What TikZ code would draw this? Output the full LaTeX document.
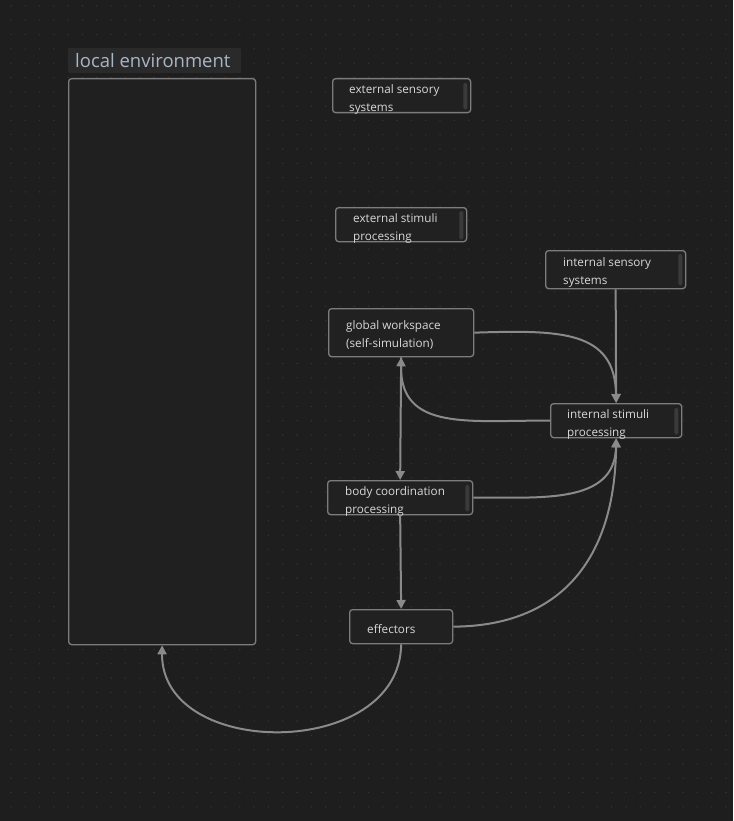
\documentclass[tikz,border=0pt]{standalone}
\usepackage{fontspec}
\setmainfont{Open Sans}
\usetikzlibrary{calc,arrows.meta}

\definecolor{canvasbg}{HTML}{1E1E1E}
\definecolor{griddot}{HTML}{333333}
\definecolor{cardfill}{HTML}{212121}
\definecolor{cardline}{HTML}{7C7C7C}
\definecolor{cardtext}{HTML}{D8D8D8}
\definecolor{edgecol}{HTML}{8A8A8A}
\definecolor{scrollcol}{HTML}{3A3A3A}
\definecolor{grouptext}{HTML}{A9B6C4}
\definecolor{grouptag}{HTML}{2A2A2A}

\begin{document}
\begin{tikzpicture}[x=1pt,y=-1pt,>={Triangle[length=9pt,width=9pt]}]
        \tikzset{
            card/.style={draw=cardline, fill=cardfill, rounded corners=3pt, line width=1.3pt, inner sep=0pt, anchor=north west},
            cardlabel/.style={anchor=west, align=left, text=cardtext, font=\fontsize{11.7}{18}\selectfont, inner sep=0pt},
            link/.style={draw=edgecol, line width=2pt},
            scroll/.style={fill=scrollcol, rounded corners=1.5pt}
        }

        % background and dot grid
        \fill[canvasbg] (0,0) rectangle (733,821);
        \foreach \i in {0,...,50}{
            \foreach \j in {0,...,56}{
                \fill[griddot] (11+14.3*\i, 6+14.3*\j) circle (0.8);
            }
        }
        \useasboundingbox (0,0) rectangle (733,821);

        % group
        \node[card, minimum width=187pt, minimum height=566pt, fill=cardfill!80!canvasbg] (env) at (68,78) {};
        \node[anchor=north west, fill=grouptag, rounded corners=2pt, minimum width=173pt, minimum height=25pt, inner sep=0pt] (envtag) at (68,48) {};
        \node[anchor=west, text=grouptext, font=\fontsize{18.5}{22}\selectfont, inner sep=0pt] (envname) at (75,60.5) {local environment};

        % cards
        \node[card, minimum width=138pt, minimum height=34pt] (extsens) at (332,78) {};
        \node[card, minimum width=131pt, minimum height=34pt] (extstim) at (335,207) {};
        \node[card, minimum width=140pt, minimum height=38pt] (intsens) at (545,250) {};
        \node[card, minimum width=145pt, minimum height=48pt] (workspace) at (328,308) {};
        \node[card, minimum width=131pt, minimum height=34pt] (intstim) at (550,403) {};
        \node[card, minimum width=145pt, minimum height=34pt] (bodycoord) at (327,480) {};
        \node[card, minimum width=103pt, minimum height=34pt] (effectors) at (349,609) {};

        \fill[scroll] ($(extsens.north east)+(-8,5)$) rectangle ($(extsens.south east)+(-4,-4)$);
        \fill[scroll] ($(extstim.north east)+(-8,4)$) rectangle ($(extstim.south east)+(-4,-3)$);
        \fill[scroll] ($(intsens.north east)+(-8,4)$) rectangle ($(intsens.south east)+(-4,-4)$);
        \fill[scroll] ($(intstim.north east)+(-8,5)$) rectangle ($(intstim.south east)+(-4,-4)$);
        \fill[scroll] ($(bodycoord.north east)+(-8,5)$) rectangle ($(bodycoord.south east)+(-4,-4)$);

        % labels
        \node[cardlabel] (extsenstxt) at (349,99.5) {external sensory\\systems};
        \node[cardlabel] (extstimtxt) at (353,228.5) {external stimuli\\processing};
        \node[cardlabel] (intsenstxt) at (563,272) {internal sensory\\systems};
        \node[cardlabel] (workspacetxt) at (346,335) {global workspace\\(self-simulation)};
        \node[cardlabel] (intstimtxt) at (567,424.5) {internal stimuli\\processing};
        \node[cardlabel] (bodycoordtxt) at (345,501.5) {body coordination\\processing};
        \node[cardlabel] (effectorstxt) at (367,629) {effectors};

        % connections
        \draw[link, ->] (workspace.east) .. controls (560,330) and (615,330) .. (intstim.north);
        \draw[link, ->] (intsens.south) -- (intstim.north);
        \draw[link, ->] (intstim.west) .. controls (470,420) and (400,432) .. (workspace.south);
        \draw[link, ->] (workspace.south) -- (bodycoord.north);
        \draw[link, ->] (bodycoord.east) .. controls (540,497) and (615,505) .. (intstim.south);
        \draw[link, ->] (bodycoord.south) -- (effectors.north);
        \draw[link, ->] (effectors.east) .. controls (560,626) and (615,560) .. (intstim.south);
        \draw[link, ->] (effectors.south) .. controls (400,760) and (161,760) .. (env.south);
    \end{tikzpicture}
\end{document}
